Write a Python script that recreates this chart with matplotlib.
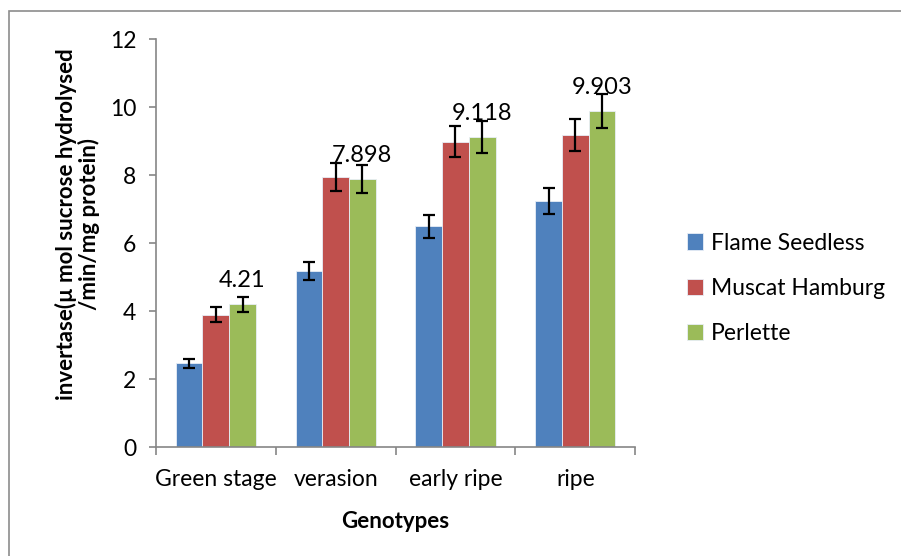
import matplotlib.pyplot as plt
import numpy as np
from matplotlib.patches import Rectangle

plt.rcParams['font.family'] = ['Lato', 'DejaVu Sans']

stages = ['Green stage', 'verasion', 'early ripe', 'ripe']
series = ['Flame Seedless', 'Muscat Hamburg', 'Perlette']
flame = [2.46, 5.19, 6.50, 7.25]
muscat = [3.90, 7.95, 8.99, 9.20]
perlette = [4.21, 7.898, 9.118, 9.903]
flame_err = [0.12, 0.27, 0.34, 0.38]
muscat_err = [0.21, 0.41, 0.46, 0.47]
perlette_err = [0.22, 0.41, 0.47, 0.50]
colors = ['#4F81BD', '#C0504D', '#9BBB59']

fig = plt.figure(figsize=(9.01, 5.56), dpi=100)
ax = fig.add_axes([0.173, 0.196, 0.532, 0.733])

# outer frame like the Excel chart area (only top/left visible)
fig.patches.append(Rectangle((0.0105, -0.1), 1.2, 1.08, transform=fig.transFigure,
                             fill=False, edgecolor='#8c8c8c', linewidth=1.2))

x = np.arange(len(stages))
w = 0.223
vals = [flame, muscat, perlette]
errs = [flame_err, muscat_err, perlette_err]
for i in range(3):
    ax.bar(x + (i - 1) * w, vals[i], w, yerr=errs[i], color=colors[i], label=series[i],
           edgecolor='#e8eef7', linewidth=0.6,
           error_kw=dict(ecolor='black', elinewidth=1.6, capsize=4.5, capthick=1.6))

for xi, v in zip(x, perlette):
    ax.annotate(f'{v:g}', (xi + w, v), xytext=(0, 12.3), textcoords='offset points',
                ha='center', va='baseline', fontsize=17)

ax.set_xlim(-0.5, 3.5)
ax.set_ylim(0, 12)
ax.set_yticks(range(0, 13, 2))
ax.set_xticks(np.arange(-0.5, 4, 1))
ax.set_xticklabels([])
ax.set_xticks(x, minor=True)
ax.set_xticklabels(stages, minor=True, fontsize=16.5)
ax.tick_params(axis='x', which='minor', length=0, pad=16)
ax.tick_params(axis='x', which='major', length=6, width=1.2, color='#868686')
ax.tick_params(axis='y', length=5, width=1.2, color='#868686', labelsize=16.5, pad=9)

for s in ['top', 'right']:
    ax.spines[s].set_visible(False)
for s in ['left', 'bottom']:
    ax.spines[s].set_color('#868686')
    ax.spines[s].set_linewidth(1.2)

ax.set_ylabel('invertase(µ mol sucrose hydrolysed\n/min/mg protein)', fontsize=16,
              fontweight='bold', linespacing=1.05)
ax.yaxis.set_label_coords(-0.117, 0.548)
ax.set_xlabel('Genotypes', fontsize=16, fontweight='bold', labelpad=15)

ax.legend(loc='center left', bbox_to_anchor=(1.065, 0.39), frameon=False, fontsize=16.5,
          handlelength=0.7, handleheight=0.7, handletextpad=0.35, labelspacing=1.05)

plt.savefig('out.png', dpi=100)
